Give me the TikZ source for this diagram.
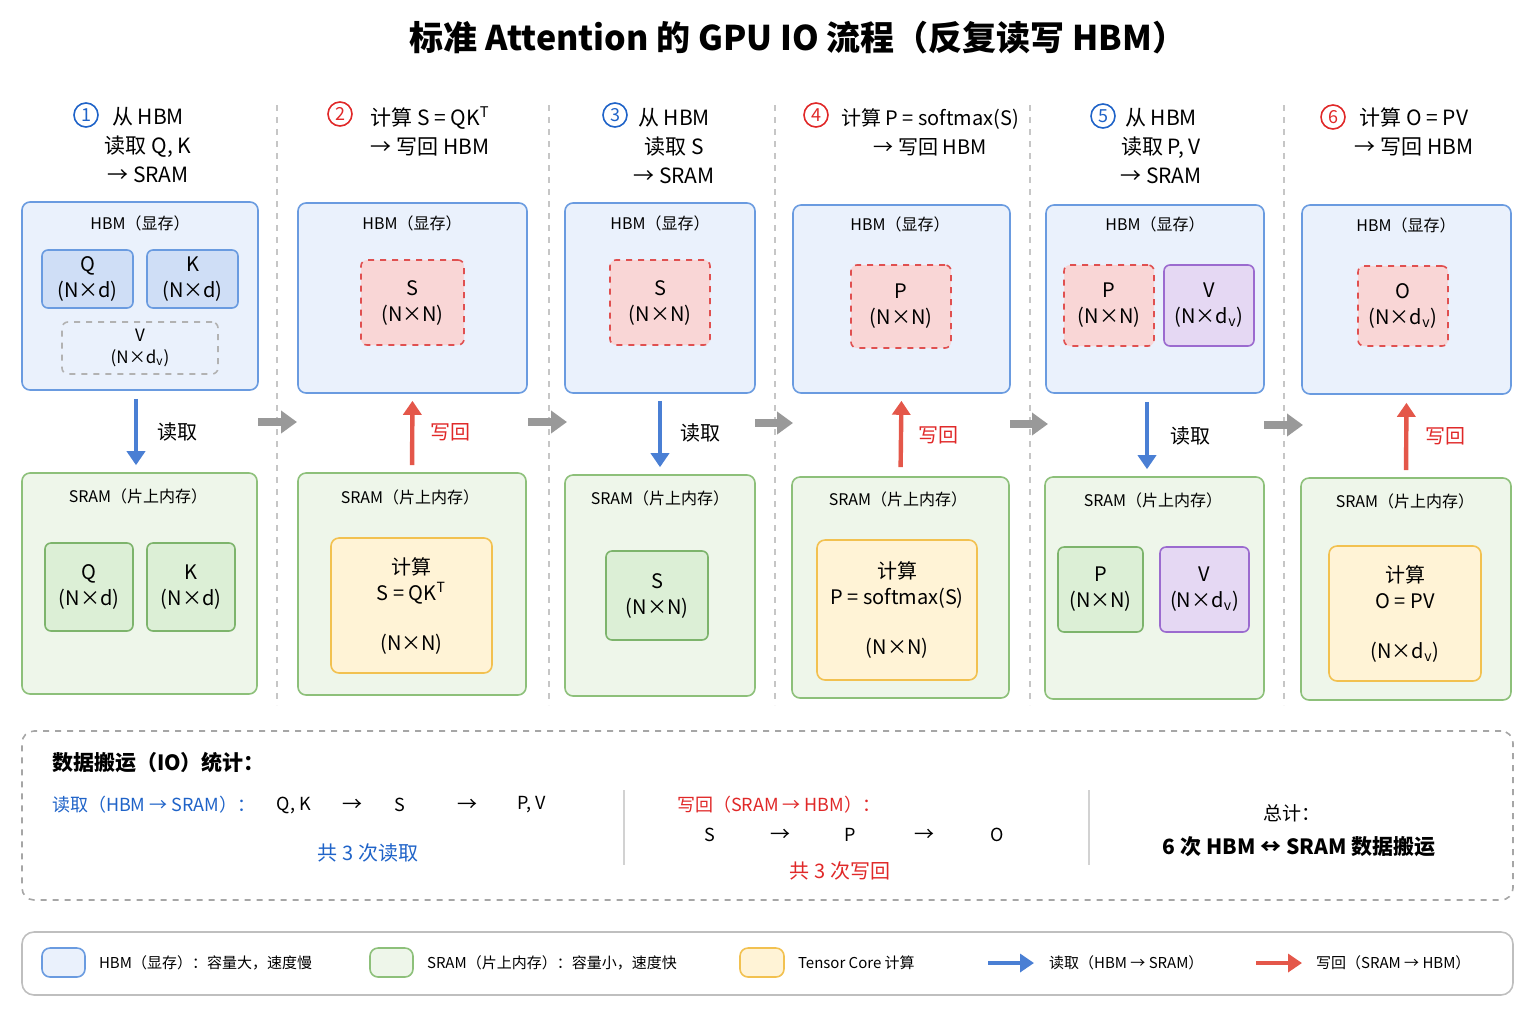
\documentclass[tikz,border=0pt]{standalone}
\usepackage{fontspec}
\setmainfont{Noto Sans CJK SC}
\usepackage{tikz}
\usetikzlibrary{arrows.meta}
\definecolor{hbmfill}{HTML}{EAF1FC}
\definecolor{hbmline}{HTML}{6A9BE0}
\definecolor{sramfill}{HTML}{EEF6EA}
\definecolor{sramline}{HTML}{8DC07A}
\definecolor{tcfill}{HTML}{FFF3D6}
\definecolor{tcline}{HTML}{F2C150}
\definecolor{redfill}{HTML}{F9D6D6}
\definecolor{redline}{HTML}{E05050}
\definecolor{purfill}{HTML}{E5D8F3}
\definecolor{purline}{HTML}{9B6BCF}
\definecolor{qkfill}{HTML}{CFDEF6}
\definecolor{grfill}{HTML}{DCEFD6}
\definecolor{grline}{HTML}{7DB46C}
\definecolor{rdarrow}{HTML}{4A7FD4}
\definecolor{wrarrow}{HTML}{E4574A}
\definecolor{rdtext}{HTML}{1F63C8}
\definecolor{wrtext}{HTML}{E02828}
\tikzset{%
  tipA/.tip={Triangle[width=9pt,length=7pt]},
  hbm/.style={draw=hbmline, fill=hbmfill, rounded corners=4pt, thick},
  sram/.style={draw=sramline, fill=sramfill, rounded corners=4pt, thick},
  tc/.style={draw=tcline, fill=tcfill, rounded corners=4pt, thick},
  qk/.style={draw=hbmline, fill=qkfill, rounded corners=3pt, thick},
  vdash/.style={draw=gray!60, dashed, rounded corners=3pt, thick},
  redbox/.style={draw=redline, fill=redfill, dashed, rounded corners=3pt, thick},
  pur/.style={draw=purline, fill=purfill, rounded corners=3pt, thick},
  grn/.style={draw=grline, fill=grfill, rounded corners=3pt, thick},
  rd/.style={draw=rdarrow, line width=2.2pt, -tipA},
  wr/.style={draw=wrarrow, line width=2.2pt, -tipA},
  colstep/.style={gray!80, line width=4pt, -{Triangle[width=11pt,length=8pt]}},
  colsep/.style={gray!45, dashed, thick},
  lbl/.style={font=\fontsize{8}{10}\selectfont},
  big/.style={font=\fontsize{10}{13}\selectfont, align=center},
  ttl/.style={font=\fontsize{10.5}{14.5}\selectfont, align=center},
  num/.style={circle, draw=#1, text=#1, thick, inner sep=0.5pt, minimum size=12pt, font=\fontsize{9}{9}\selectfont},
  leg/.style={font=\fontsize{7.5}{9}\selectfont, anchor=west}
}
\newcommand{\bx}[6]{\node[#6, minimum width={(#4-#2)*0.5pt}, minimum height={(#5-#3)*0.5pt}] (#1) at ({(#2+#4)/2},{(#3+#5)/2}) {};}

\begin{document}
\begin{tikzpicture}[x=0.5pt,y=-0.5pt]
\useasboundingbox (0,0) rectangle (1536,1024);
\node[font=\fontsize{17}{17}\selectfont\bfseries] (title) at (798,38) {标准 Attention 的 GPU IO 流程（反复读写 HBM）};
% column separators
\draw[colsep] (277,105) -- (277,705);
\draw[colsep] (549,105) -- (549,705);
\draw[colsep] (775,105) -- (775,705);
\draw[colsep] (1030,105) -- (1030,705);
\draw[colsep] (1284,105) -- (1284,705);
% step titles
\node[num=rdtext] (n1) at (86,115) {1};
\node[ttl] (t1) at (148,145) {从 HBM\\读取 Q, K\\→ SRAM};
\node[num=wrtext] (n2) at (340,114) {2};
\node[ttl] (t2) at (430,131) {计算 S = QK$^{\mathrm{T}}$\\→ 写回 HBM};
\node[num=rdtext] (n3) at (615,115) {3};
\node[ttl] (t3) at (674,146) {从 HBM\\读取 S\\→ SRAM};
\node[num=wrtext] (n4) at (816,115) {4};
\node[ttl, font=\fontsize{10}{14.5}\selectfont] (t4) at (930,132) {计算 P = softmax(S)\\→ 写回 HBM};
\node[num=rdtext] (n5) at (1103,116) {5};
\node[ttl] (t5) at (1161,146) {从 HBM\\读取 P, V\\→ SRAM};
\node[num=wrtext] (n6) at (1333,117) {6};
\node[ttl] (t6) at (1414,132) {计算 O = PV\\→ 写回 HBM};
% HBM boxes
\bx{h1}{22}{202}{258}{390}{hbm}
\bx{h2}{298}{203}{527}{393}{hbm}
\bx{h3}{565}{203}{755}{393}{hbm}
\bx{h4}{793}{205}{1010}{393}{hbm}
\bx{h5}{1046}{205}{1264}{393}{hbm}
\bx{h6}{1302}{205}{1511}{394}{hbm}
\node[lbl] at (140,223) {HBM（显存）};
\node[lbl] at (412,223) {HBM（显存）};
\node[lbl] at (660,223) {HBM（显存）};
\node[lbl] at (900,224) {HBM（显存）};
\node[lbl] at (1155,224) {HBM（显存）};
\node[lbl] at (1406,225) {HBM（显存）};
% SRAM boxes
\bx{s1}{22}{473}{257}{694}{sram}
\bx{s2}{298}{473}{526}{695}{sram}
\bx{s3}{565}{475}{755}{696}{sram}
\bx{s4}{792}{477}{1009}{698}{sram}
\bx{s5}{1045}{477}{1264}{699}{sram}
\bx{s6}{1301}{478}{1511}{700}{sram}
\node[lbl] at (138,496) {SRAM（片上内存）};
\node[lbl] at (410,497) {SRAM（片上内存）};
\node[lbl] at (660,498) {SRAM（片上内存）};
\node[lbl] at (898,499) {SRAM（片上内存）};
\node[lbl] at (1153,500) {SRAM（片上内存）};
\node[lbl] at (1405,501) {SRAM（片上内存）};
% inner blocks, HBM
\bx{hq1}{42}{250}{133}{308}{qk}
\bx{hk1}{147}{250}{238}{308}{qk}
\bx{hv1}{62}{322}{218}{374}{vdash}
\node[big] at (hq1) {Q\\(N×d)};
\node[big] at (hk1) {K\\(N×d)};
\node[big, font=\fontsize{8.5}{11}\selectfont] at (hv1) {V\\(N×d\textsubscript{v})};
\bx{hs2}{361}{260}{464}{345}{redbox}
\node[big] at (hs2) {S\\(N×N)};
\bx{hs3}{610}{260}{710}{345}{redbox}
\node[big] at (hs3) {S\\(N×N)};
\bx{hp4}{851}{265}{951}{348}{redbox}
\node[big] at (hp4) {P\\(N×N)};
\bx{hp5}{1064}{265}{1154}{346}{redbox}
\bx{hv5}{1164}{265}{1254}{346}{pur}
\node[big] at (hp5) {P\\(N×N)};
\node[big] at (hv5) {V\\(N×d\textsubscript{v})};
\bx{ho6}{1358}{266}{1448}{346}{redbox}
\node[big] at (ho6) {O\\(N×d\textsubscript{v})};
% inner blocks, SRAM
\bx{sq1}{45}{543}{133}{631}{grn}
\bx{sk1}{147}{543}{235}{631}{grn}
\node[big] at (sq1) {Q\\(N×d)};
\node[big] at (sk1) {K\\(N×d)};
\bx{sc2}{331}{538}{492}{673}{tc}
\node[big, font=\fontsize{10}{25}\selectfont] at (sc2) {计算\\[-12pt]S = QK$^{\mathrm{T}}$\\(N×N)};
\bx{ss3}{606}{551}{708}{640}{grn}
\node[big] at (ss3) {S\\(N×N)};
\bx{sc4}{817}{540}{977}{680}{tc}
\node[big, font=\fontsize{10}{25}\selectfont] at (sc4) {计算\\[-12pt]P = softmax(S)\\(N×N)};
\bx{sp5}{1058}{547}{1143}{632}{grn}
\bx{sv5}{1160}{547}{1249}{632}{pur}
\node[big] at (sp5) {P\\(N×N)};
\node[big] at (sv5) {V\\(N×d\textsubscript{v})};
\bx{sc6}{1329}{546}{1481}{681}{tc}
\node[big, font=\fontsize{10}{25}\selectfont] at (sc6) {计算\\[-12pt]O = PV\\(N×d\textsubscript{v})};
% read / write arrows
\draw[rd, shorten <=4pt, shorten >=3.5pt] ([xshift=-2]h1.south) -- ([xshift=-2]h1.south |- s1.north);
\draw[wr, shorten <=3.5pt, shorten >=3.5pt] (s2.north) -- (h2.south);
\draw[rd, shorten <=3.5pt, shorten >=3.5pt] (h3.south) -- (s3.north);
\draw[wr, shorten <=4.5pt, shorten >=3.5pt] (s4.north) -- (h4.south);
\draw[rd, shorten <=4pt, shorten >=3.5pt] ([xshift=-4]h5.south) -- ([xshift=-4]h5.south |- s5.north);
\draw[wr, shorten <=3.5pt, shorten >=4pt] (s6.north) -- (h6.south);
\node[big] at (177,432) {读取};
\node[big, text=wrtext] at (450,432) {写回};
\node[big] at (700,433) {读取};
\node[big, text=wrtext] at (938,435) {写回};
\node[big] at (1190,436) {读取};
\node[big, text=wrtext] at (1445,436) {写回};
% steps between columns
\coordinate (g1a) at (258,422); \coordinate (g1b) at (297,422);
\coordinate (g2a) at (528,422); \coordinate (g2b) at (567,422);
\coordinate (g3a) at (755,423); \coordinate (g3b) at (793,423);
\coordinate (g4a) at (1010,424); \coordinate (g4b) at (1048,424);
\coordinate (g5a) at (1264,425); \coordinate (g5b) at (1303,425);
\draw[colstep] (g1a) -- (g1b);
\draw[colstep] (g2a) -- (g2b);
\draw[colstep] (g3a) -- (g3b);
\draw[colstep] (g4a) -- (g4b);
\draw[colstep] (g5a) -- (g5b);
% IO statistics
\bx{stat}{22}{731}{1513}{900}{draw=gray!70, dashed, rounded corners=6pt, thick}
\node[anchor=west, font=\fontsize{10.5}{12}\selectfont\bfseries] at (45,763) {数据搬运（IO）统计：};
\node[anchor=west, text=rdtext, font=\fontsize{9}{11}\selectfont] at (45,805) {读取（HBM → SRAM）：};
\node[big, font=\fontsize{9}{11}\selectfont] at (294,805) {Q, K};
\node[big] at (352,805) {→};
\node[big, font=\fontsize{9}{11}\selectfont] at (400,805) {S};
\node[big] at (467,805) {→};
\node[big, font=\fontsize{9}{11}\selectfont] at (532,805) {P, V};
\node[big, text=rdtext] at (368,853) {共 3 次读取};
\draw[gray!35, thick] (624,790) -- (624,865);
\draw[gray!35, thick] (1089,790) -- (1089,865);
\node[anchor=west, text=wrtext, font=\fontsize{9}{11}\selectfont] at (670,805) {写回（SRAM → HBM）：};
\node[big, font=\fontsize{9}{11}\selectfont] at (710,835) {S};
\node[big] at (780,835) {→};
\node[big, font=\fontsize{9}{11}\selectfont] at (850,835) {P};
\node[big] at (924,835) {→};
\node[big, font=\fontsize{9}{11}\selectfont] at (997,835) {O};
\node[big, text=wrtext] at (840,871) {共 3 次写回};
\node[big, font=\fontsize{9.5}{11}\selectfont] at (1292,813) {总计：};
\node[big, font=\fontsize{10.5}{12}\selectfont\bfseries] at (1299,847) {6 次 HBM ↔ SRAM 数据搬运};
% legend
\bx{legbox}{22}{932}{1513}{995}{draw=gray!50, rounded corners=6pt, thick}
\bx{lh}{42}{948}{85}{977}{hbm}
\node[leg] at (92,963) {HBM（显存）：容量大，速度慢};
\bx{ls}{370}{948}{413}{977}{sram}
\node[leg] at (420,963) {SRAM（片上内存）：容量小，速度快};
\bx{lt}{740}{948}{784}{977}{tc}
\node[leg] at (791,963) {Tensor Core 计算};
\coordinate (lra) at (988,963); \coordinate (lrb) at (1034,963);
\coordinate (lwa) at (1256,963); \coordinate (lwb) at (1302,963);
\draw[rd] (lra) -- (lrb);
\node[leg] at (1042,963) {读取（HBM → SRAM）};
\draw[wr] (lwa) -- (lwb);
\node[leg] at (1309,963) {写回（SRAM → HBM）};
\end{tikzpicture}
\end{document}
